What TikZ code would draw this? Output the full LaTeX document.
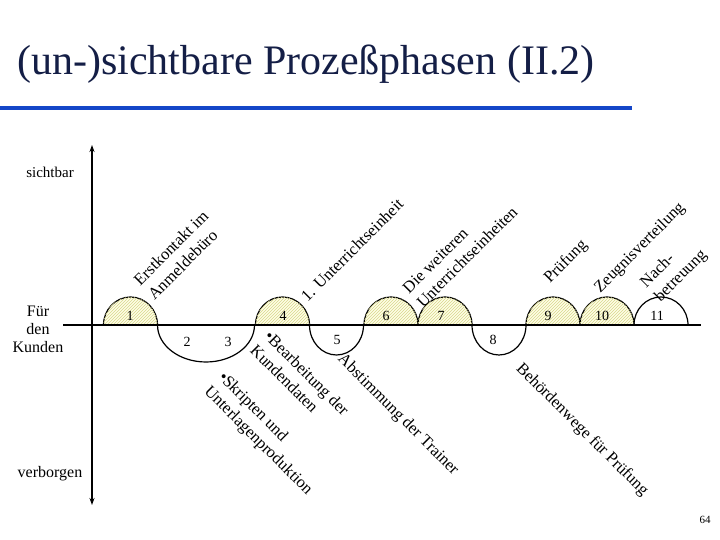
\documentclass[tikz,border=0pt]{standalone}
\usepackage{fontspec}
\setmainfont{Liberation Serif}
\usetikzlibrary{patterns,arrows.meta}
\definecolor{titlec}{RGB}{20,30,70}
\definecolor{barc}{RGB}{20,70,200}
\definecolor{hatchc}{RGB}{215,215,140}
\tikzset{
  bump/.style={line width=1.2pt},
  filled/.style={fill=yellow!10,postaction={pattern=north east lines,pattern color=hatchc}},
  num/.style={font=\fontsize{14}{14}\selectfont},
  up/.style={rotate=45,font=\fontsize{16.5}{20}\selectfont,align=left,inner sep=0pt},
  dn/.style={rotate=-45,font=\fontsize{16.5}{20}\selectfont,align=left,inner sep=0pt},
  side/.style={font=\fontsize{16}{18}\selectfont,align=center}
}
\begin{document}
\begin{tikzpicture}[x=1pt,y=1pt]
\useasboundingbox (0,0) rectangle (720,540);
\node[anchor=base west,text=titlec,font=\fontsize{42}{42}\selectfont,inner sep=0pt] (title) at (17,465) {(un-)sichtbare Prozeßphasen (II.2)};
\fill[barc] (0,430) rectangle (632,434);
% axes
\coordinate (ht) at (92,395); \coordinate (hb) at (92,35);
\coordinate (l) at (63,215); \coordinate (r) at (701,215);
\draw[line width=1.2pt,-{Stealth[length=7pt,width=5pt]}] (92,215) -- (ht);
\draw[line width=1.2pt,-{Stealth[length=7pt,width=5pt]}] (92,215) -- (hb);
% bumps above
\foreach \c in {130.5,282.5,391,445,553,607}{
  \draw[bump,filled] (\c-27,215) arc[start angle=180,end angle=0,x radius=27,y radius=28] -- cycle;}
\draw[bump] (634,215) arc[start angle=180,end angle=0,x radius=27,y radius=28];
% bumps below
\draw[bump] (157.5,215) arc[start angle=180,end angle=360,x radius=48.5,y radius=37];
\draw[bump] (309.5,215) arc[start angle=180,end angle=360,x radius=27,y radius=30];
\draw[bump] (472,215) arc[start angle=180,end angle=360,x radius=27,y radius=30];
\draw[line width=1.2pt] (l) -- (r);
% numbers
\node[num] (n1) at (130,224) {1};
\node[num] (n2) at (187,198) {2};
\node[num] (n3) at (228,198) {3};
\node[num] (n4) at (283,224) {4};
\node[num] (n5) at (337,200) {5};
\node[num] (n6) at (386,224) {6};
\node[num] (n7) at (441,224) {7};
\node[num] (n8) at (493,200) {8};
\node[num] (n9) at (548,224) {9};
\node[num] (n10) at (602,224) {10};
\node[num] (n11) at (657,224) {11};
% labels
\node[up] (t1) at (178,285) {Erstkontakt im\\Anmeldebüro};
\node[up] (t4) at (352,290) {1. Unterrichtseinheit};
\node[up] (t6) at (460,290) {Die weiteren\\Unterrichtseinheiten};
\node[up] (t9) at (566,278) {Prüfung};
\node[up] (t10) at (640,292) {Zeugnisverteilung};
\node[up] (t11) at (674,271) {Nach-\\betreuung};
\node[dn] (b1) at (300,160) {\textbullet Bearbeitung der\\Kundendaten};
\node[dn] (b2) at (265,106) {\textbullet Skripten und\\Unterlagenproduktion};
\node[dn] (b5) at (398,125) {Abstimmung der Trainer};
\node[dn] (b8) at (582,110) {Behördenwege für Prüfung};
% side
\node[font=\fontsize{15}{15}\selectfont] (s) at (50,368) {sichtbar};
\node[side] (k) at (38,211) {Für\\den\\Kunden};
\node[font=\fontsize{16}{16}\selectfont] (v) at (50,66) {verborgen};
\node[font=\fontsize{11}{11}\selectfont] (p) at (705,20) {64};
\end{tikzpicture}
\end{document}
